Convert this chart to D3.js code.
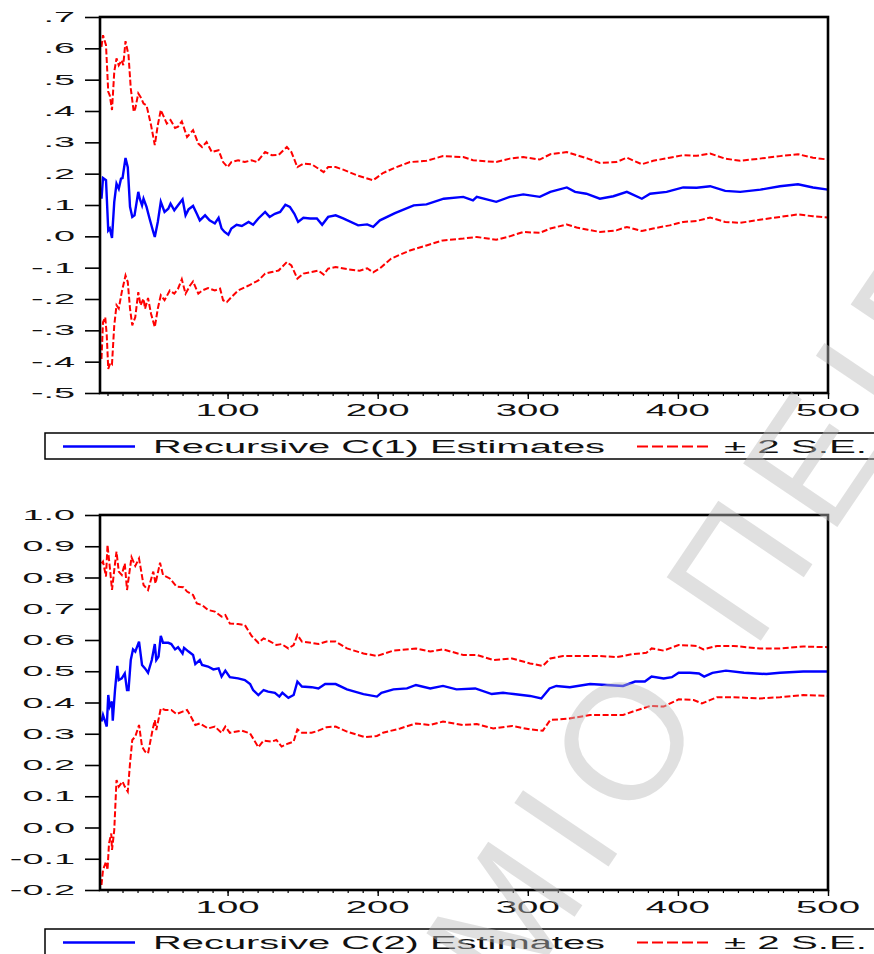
<!DOCTYPE html>
<html>
<head>
<meta charset="utf-8">
<script src="https://cdn.jsdelivr.net/npm/d3@7"></script>
<style>
  body { margin: 0; background: #fff; }
  svg text { font-family: "Liberation Sans", Arial, sans-serif; }
</style>
</head>
<body>
<div id="chart"></div>
<script>
// observation number, value
const c1Est = [[16,0.12],[17,0.186],[19,0.179],[20.5,0.019],[21.5,0.025],[23,-0.005],[24.5,0.11],[26,0.168],[27.5,0.152],[29,0.184],[30,0.186],[32,0.25],[33.5,0.221],[35,0.094],[36.5,0.062],[38,0.067],[40.5,0.142],[41.5,0.12],[43,0.099],[44,0.12],[46,0.094],[48,0.057],[50.5,0.014],[51.5,-0.002],[53.5,0.046],[55.5,0.11],[58,0.078],[60.5,0.088],[62,0.104],[64.5,0.083],[67,0.099],[70,0.118],[72,0.067],[74,0.086],[77,0.097],[79.5,0.072],[81.5,0.051],[85,0.067],[88,0.051],[91.5,0.041],[94,0.059],[96,0.025],[98,0.014],[100.5,0.005],[102.5,0.025],[106,0.037],[109.5,0.033],[114,0.046],[117,0.037],[120.5,0.057],[125,0.078],[128,0.062],[131.5,0.072],[135,0.078],[138.5,0.101],[141.5,0.094],[144.5,0.072],[147,0.046],[150.5,0.059],[155,0.057],[159.5,0.057],[163,0.037],[167,0.062],[172,0.067],[177,0.057],[187,0.035],[193,0.038],[197,0.03],[201.5,0.051],[211.5,0.074],[224,0.099],[232.5,0.102],[244,0.12],[257,0.126],[263.5,0.115],[266,0.126],[279,0.11],[288,0.126],[297,0.134],[308,0.126],[315,0.142],[326,0.156],[331.5,0.142],[339,0.136],[348,0.12],[357,0.128],[366,0.142],[376,0.12],[381.5,0.136],[392.5,0.142],[403.5,0.156],[412.5,0.155],[421.5,0.16],[431.5,0.145],[441.5,0.142],[455,0.149],[468,0.16],[480,0.166],[490,0.156],[500,0.149]];
const c1Upper = [[16,0.605],[17,0.642],[19,0.61],[20.5,0.461],[21.5,0.45],[23,0.403],[24.5,0.525],[26,0.568],[27.5,0.546],[29.5,0.562],[30.5,0.546],[32,0.623],[34,0.578],[35.5,0.472],[37.5,0.397],[38.5,0.408],[40.5,0.456],[42,0.445],[44,0.424],[46,0.418],[49,0.355],[51.5,0.291],[53.5,0.355],[55.5,0.403],[57,0.387],[59.5,0.36],[62,0.371],[65,0.346],[67,0.35],[69.5,0.367],[73,0.317],[75,0.328],[77,0.339],[80.5,0.296],[83,0.285],[86,0.301],[89.5,0.269],[94,0.275],[97,0.237],[100,0.221],[102.5,0.237],[107,0.243],[111.5,0.237],[116,0.243],[119.5,0.237],[125,0.269],[129.5,0.259],[134,0.26],[139.5,0.285],[142.5,0.269],[146.5,0.221],[150.5,0.232],[156,0.23],[160.5,0.216],[164,0.205],[167,0.221],[172,0.221],[177,0.213],[186,0.195],[197,0.179],[203.5,0.202],[211.5,0.219],[221.5,0.237],[232.5,0.241],[243.5,0.256],[257,0.253],[263.5,0.243],[279,0.237],[288,0.248],[297,0.253],[308,0.245],[315,0.262],[326,0.269],[332.5,0.259],[340,0.248],[348,0.234],[359,0.237],[366,0.251],[376,0.23],[383.5,0.241],[394.5,0.251],[403.5,0.259],[412.5,0.257],[421.5,0.264],[431.5,0.248],[441.5,0.241],[454.5,0.248],[468,0.256],[480,0.262],[490,0.251],[500,0.245]];
const c1Lower = [[16,-0.391],[17,-0.274],[18.5,-0.258],[19.5,-0.316],[20.5,-0.423],[22,-0.402],[23,-0.407],[24.5,-0.284],[26,-0.22],[27.5,-0.23],[29.5,-0.178],[32,-0.125],[33.5,-0.146],[35,-0.231],[36.5,-0.284],[38.5,-0.258],[40.5,-0.178],[42,-0.22],[44,-0.199],[45,-0.231],[47,-0.197],[49,-0.247],[51.5,-0.29],[53.5,-0.231],[55.5,-0.188],[58,-0.204],[61.5,-0.173],[64.5,-0.183],[67,-0.167],[69.5,-0.137],[72,-0.183],[75,-0.157],[77,-0.144],[80.5,-0.183],[83,-0.173],[87,-0.165],[91.5,-0.173],[95,-0.167],[97,-0.204],[99.5,-0.21],[102.5,-0.194],[107,-0.173],[114,-0.157],[120.5,-0.141],[125,-0.119],[129.5,-0.114],[134,-0.109],[139.5,-0.082],[142.5,-0.093],[146.5,-0.135],[150.5,-0.119],[156,-0.114],[160.5,-0.109],[164,-0.122],[167,-0.103],[172,-0.098],[180,-0.105],[188,-0.11],[193,-0.102],[197,-0.115],[202,-0.1],[209,-0.071],[221.5,-0.045],[232.5,-0.029],[243.5,-0.013],[257,-0.007],[266,-0.002],[279,-0.011],[288,0.0],[297,0.014],[308,0.011],[315,0.025],[326,0.038],[332.5,0.028],[340,0.021],[348,0.014],[359,0.019],[366,0.03],[376,0.017],[383.5,0.025],[394.5,0.035],[403.5,0.046],[412.5,0.049],[421.5,0.06],[431.5,0.046],[441.5,0.043],[454.5,0.053],[468,0.062],[480,0.07],[490,0.064],[500,0.06]];

const c2Est = [[16,0.339],[17,0.36],[19.5,0.323],[20.5,0.424],[21.5,0.387],[23,0.403],[23.5,0.342],[25,0.44],[26.5,0.517],[27.5,0.472],[29.5,0.477],[31.5,0.493],[33,0.44],[34,0.44],[35.5,0.536],[37,0.57],[38.5,0.563],[41,0.595],[43,0.52],[45,0.509],[47,0.495],[49.5,0.536],[51.5,0.587],[52.5,0.536],[54,0.547],[55.5,0.613],[57,0.591],[60.5,0.591],[62.5,0.587],[65,0.57],[67,0.577],[70,0.557],[71,0.575],[74,0.563],[77,0.552],[78.5,0.523],[81.5,0.536],[83,0.52],[87,0.515],[90.5,0.506],[94,0.509],[96,0.483],[98.5,0.502],[101.5,0.481],[107,0.477],[111.5,0.472],[115,0.459],[117,0.44],[120.5,0.424],[124,0.44],[127,0.435],[131.5,0.431],[134.5,0.419],[136.5,0.431],[140.5,0.415],[144,0.424],[146.5,0.467],[149.5,0.451],[156,0.449],[160.5,0.445],[165,0.459],[172,0.459],[179.5,0.442],[190.5,0.427],[199.5,0.419],[202.5,0.431],[210.5,0.442],[219.5,0.445],[225.5,0.456],[235,0.445],[243.5,0.453],[252.5,0.442],[265,0.445],[276,0.427],[283.5,0.431],[290.5,0.427],[301.5,0.421],[309,0.413],[314.5,0.445],[319,0.453],[328,0.449],[341.5,0.459],[352.5,0.456],[363.5,0.453],[371.5,0.467],[378,0.467],[382.5,0.483],[390.5,0.477],[396,0.481],[400.5,0.495],[408,0.495],[414,0.493],[417.5,0.483],[423,0.495],[432,0.502],[444,0.495],[459,0.491],[468,0.495],[483.5,0.499],[500,0.499]];
const c2Upper = [[16,0.845],[17,0.851],[19,0.803],[20,0.904],[21.5,0.835],[23,0.76],[24.5,0.824],[26,0.883],[27.5,0.819],[29.5,0.808],[31.5,0.845],[33,0.76],[36,0.865],[38.5,0.837],[41,0.861],[44,0.776],[47,0.76],[50.5,0.819],[52,0.781],[55,0.847],[57,0.808],[61.5,0.797],[66,0.771],[70.5,0.769],[73,0.755],[77,0.744],[79.5,0.717],[83,0.712],[87,0.696],[91.5,0.691],[96,0.675],[98.5,0.68],[101.5,0.653],[107,0.651],[111.5,0.648],[116,0.613],[120.5,0.591],[124,0.605],[128.5,0.595],[132.5,0.584],[136,0.587],[140.5,0.573],[144,0.584],[146.5,0.616],[149.5,0.595],[156,0.591],[160.5,0.587],[166,0.595],[172,0.595],[179.5,0.573],[190.5,0.557],[199.5,0.549],[210.5,0.566],[225.5,0.573],[235,0.563],[243.5,0.57],[257,0.552],[266,0.552],[277,0.536],[289.5,0.541],[301.5,0.525],[310,0.517],[315,0.541],[323.5,0.549],[337,0.549],[348,0.549],[359,0.545],[370,0.555],[379,0.559],[382.5,0.573],[390.5,0.566],[400.5,0.584],[412.5,0.581],[417,0.57],[426,0.581],[437,0.581],[454.5,0.573],[468,0.573],[483.5,0.579],[500,0.577]];
const c2Lower = [[16,-0.184],[17,-0.136],[19,-0.109],[20,-0.136],[21,-0.051],[22.5,-0.019],[23,-0.072],[24.5,-0.008],[26,0.152],[27.5,0.131],[30,0.147],[31.5,0.131],[33.5,0.115],[35,0.205],[36.5,0.28],[38.5,0.291],[41,0.328],[43,0.259],[45,0.243],[47,0.237],[50,0.312],[51.5,0.344],[52.5,0.312],[55.5,0.381],[58.5,0.376],[62.5,0.376],[66,0.363],[70,0.371],[73,0.376],[75,0.36],[78.5,0.328],[81.5,0.333],[87,0.317],[91.5,0.323],[96,0.303],[98.5,0.323],[101.5,0.303],[109.5,0.31],[115,0.301],[120.5,0.257],[124,0.278],[129.5,0.275],[132.5,0.28],[136,0.259],[140.5,0.269],[144,0.275],[146.5,0.314],[149.5,0.303],[156,0.303],[160.5,0.31],[166,0.321],[172,0.323],[179.5,0.307],[191.5,0.289],[199.5,0.293],[203.5,0.303],[215,0.317],[225.5,0.333],[235,0.328],[243.5,0.339],[257,0.328],[266,0.331],[277,0.317],[289.5,0.325],[301.5,0.314],[310,0.31],[315,0.344],[328,0.349],[341.5,0.36],[352.5,0.36],[363.5,0.36],[370,0.371],[381.5,0.389],[390.5,0.387],[400.5,0.41],[410.5,0.408],[416,0.397],[426,0.417],[437,0.417],[454.5,0.413],[468,0.417],[483.5,0.424],[500,0.421]];

const xMajorTicks = [100, 200, 300, 400, 500];
const xMinorTicks = d3.range(20, 501, 10);
const c1YTicks = [0.7, 0.6, 0.5, 0.4, 0.3, 0.2, 0.1, 0.0, -0.1, -0.2, -0.3, -0.4, -0.5];
const c2YTicks = [1.0, 0.9, 0.8, 0.7, 0.6, 0.5, 0.4, 0.3, 0.2, 0.1, 0.0, -0.1, -0.2];
const legendLabels = ["Recursive C(1) Estimates", "Recursive C(2) Estimates"];
const bandLabel = "\u00b1 2 S.E.";

class RecursivePlot {
    constructor(_config, _data) {
        this.config = {
            svg: _config.svg,
            left: 100,
            right: 828,
            top: _config.top,
            bottom: _config.bottom,
            yDomain: _config.yDomain,
            yTicks: _config.yTicks,
            yFormat: _config.yFormat,
            legendTop: _config.legendTop,
            legendLabel: _config.legendLabel
        }
        this.data = _data;
        this.initVis();
    }

    initVis() {
        let vis = this;
        let c = vis.config;

        vis.x = d3.scaleLinear().domain([15, 500]).range([c.left, c.right]);
        vis.y = d3.scaleLinear().domain(c.yDomain).range([c.bottom, c.top]);

        vis.g = c.svg.append("g");

        // y ticks (outside, long), labels drawn separately because they are stretched
        let yAxis = vis.g.append("g")
            .attr("transform", `translate(${c.left},0)`)
            .call(d3.axisLeft(vis.y).tickValues(c.yTicks).tickSize(15).tickFormat(""));
        yAxis.select(".domain").remove();
        yAxis.selectAll("line").attr("stroke", "#000").attr("stroke-width", 1.6);

        vis.g.selectAll(".ylab")
            .data(c.yTicks)
            .enter()
            .append("text")
            .attr("class", "ylab")
            .attr("transform", d => `translate(75,${vis.y(d) + 5}) scale(2.7,1)`)
            .attr("text-anchor", "end")
            .attr("font-size", 14)
            .attr("fill", "#111")
            .text(c.yFormat);

        // x ticks
        let xMinor = vis.g.append("g")
            .attr("transform", `translate(0,${c.bottom})`)
            .call(d3.axisBottom(vis.x).tickValues(xMinorTicks).tickSize(3).tickFormat(""));
        xMinor.select(".domain").remove();
        xMinor.selectAll("line").attr("stroke", "#000").attr("stroke-width", 1.2);

        let xMajor = vis.g.append("g")
            .attr("transform", `translate(0,${c.bottom})`)
            .call(d3.axisBottom(vis.x).tickValues(xMajorTicks).tickSize(6).tickFormat(""));
        xMajor.select(".domain").remove();
        xMajor.selectAll("line").attr("stroke", "#000").attr("stroke-width", 1.4);

        vis.g.selectAll(".xlab")
            .data(xMajorTicks)
            .enter()
            .append("text")
            .attr("class", "xlab")
            .attr("transform", d => `translate(${vis.x(d)},${c.bottom + 23}) scale(2.4,1)`)
            .attr("text-anchor", "middle")
            .attr("font-size", 16)
            .attr("fill", "#111")
            .text(d => d);

        vis.renderVis();
    }

    renderVis() {
        let vis = this;
        let c = vis.config;
        let line = d3.line().x(d => vis.x(d[0])).y(d => vis.y(d[1]));

        vis.g.append("path")
            .attr("d", line(vis.data.upper))
            .attr("fill", "none")
            .attr("stroke", "#ff0000")
            .attr("stroke-width", 2)
            .attr("stroke-dasharray", "6,2.5");
        vis.g.append("path")
            .attr("d", line(vis.data.lower))
            .attr("fill", "none")
            .attr("stroke", "#ff0000")
            .attr("stroke-width", 2)
            .attr("stroke-dasharray", "6,2.5");
        vis.g.append("path")
            .attr("d", line(vis.data.est))
            .attr("fill", "none")
            .attr("stroke", "#0000ff")
            .attr("stroke-width", 2.4);

        // frame
        vis.g.append("rect")
            .attr("x", c.left)
            .attr("y", c.top)
            .attr("width", c.right - c.left)
            .attr("height", c.bottom - c.top)
            .attr("fill", "none")
            .attr("stroke", "#000")
            .attr("stroke-width", 2.6);

        // legend
        let ly = c.legendTop + 13.5;
        vis.g.append("rect")
            .attr("x", 45)
            .attr("y", c.legendTop)
            .attr("width", 860)
            .attr("height", 26)
            .attr("fill", "#fff")
            .attr("stroke", "#000")
            .attr("stroke-width", 1.5);
        vis.g.append("line")
            .attr("x1", 63).attr("x2", 135)
            .attr("y1", ly).attr("y2", ly)
            .attr("stroke", "#0000ff")
            .attr("stroke-width", 2.4);
        vis.g.append("text")
            .attr("x", 153)
            .attr("y", ly + 6.5)
            .attr("font-size", 18)
            .attr("textLength", 452)
            .attr("lengthAdjust", "spacingAndGlyphs")
            .attr("fill", "#111")
            .text(c.legendLabel);
        vis.g.append("line")
            .attr("x1", 637).attr("x2", 710)
            .attr("y1", ly).attr("y2", ly)
            .attr("stroke", "#ff0000")
            .attr("stroke-width", 2)
            .attr("stroke-dasharray", "11,4");
        vis.g.append("text")
            .attr("x", 724)
            .attr("y", ly + 6.5)
            .attr("font-size", 18)
            .attr("textLength", 143)
            .attr("lengthAdjust", "spacingAndGlyphs")
            .attr("fill", "#111")
            .text(bandLabel);
    }
}

const svg = d3.select("#chart").append("svg")
    .attr("width", 874)
    .attr("height", 954);

const fmtTop = d => d.toFixed(1).replace("0.", ".");
const fmtBottom = d => d.toFixed(1);

new RecursivePlot({
    svg: svg, top: 17, bottom: 393, yDomain: [-0.5, 0.7], yTicks: c1YTicks,
    yFormat: fmtTop, legendTop: 433, legendLabel: legendLabels[0]
}, {est: c1Est, upper: c1Upper, lower: c1Lower});

new RecursivePlot({
    svg: svg, top: 515, bottom: 890, yDomain: [-0.2, 1.0], yTicks: c2YTicks,
    yFormat: fmtBottom, legendTop: 929, legendLabel: legendLabels[1]
}, {est: c2Est, upper: c2Upper, lower: c2Lower});

// watermark over everything
svg.append("text")
    .attr("transform", "translate(513,1008) rotate(-56)")
    .attr("font-size", 165)
    .attr("letter-spacing", 18)
    .attr("fill", "#bbbbbb")
    .attr("fill-opacity", 0.45)
    .text("\u039c\u0399\u039f \u03a0\u0395\u0399\u03a1\u0391\u0399\u03a9\u03a3");
</script>
</body>
</html>
